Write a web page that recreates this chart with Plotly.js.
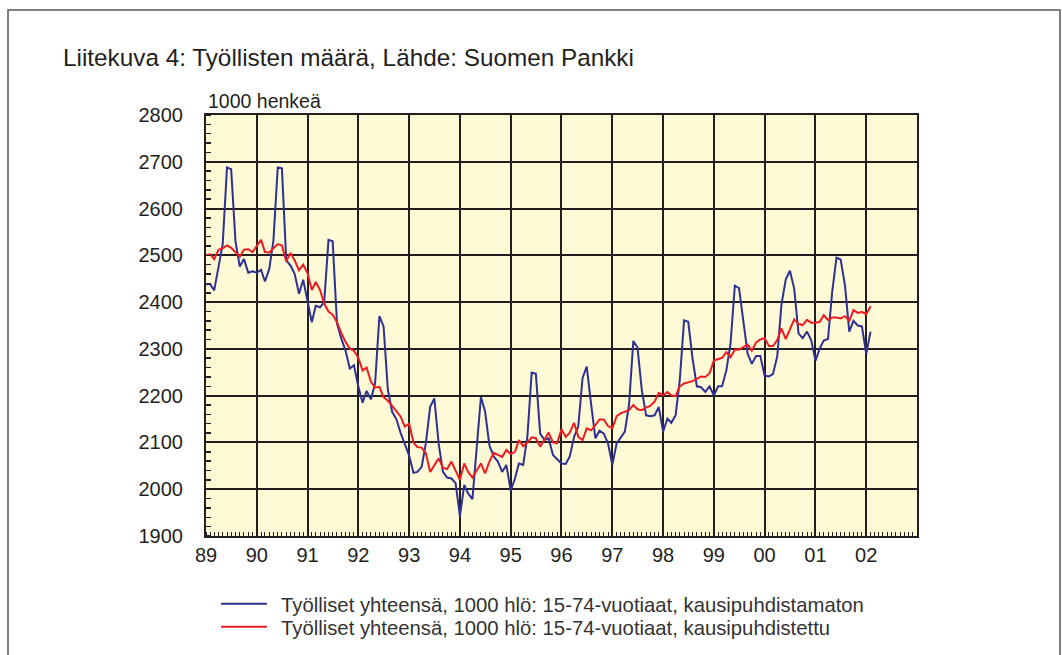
<!DOCTYPE html>
<html>
<head>
<meta charset="utf-8">
<script src="https://cdn.plot.ly/plotly-3.0.1.min.js"></script>
<style>
html,body{margin:0;padding:0;background:#fff;}
#chart{width:1062px;height:655px;}
</style>
</head>
<body>
<div id="chart"></div>
<script>
// Years covered by the monthly data (Jan 1989 .. Feb 2002)
const years = [1989,1990,1991,1992,1993,1994,1995,1996,1997,1998,1999,2000,2001,2002];
const tickYears = [1989,1990,1991,1992,1993,1994,1995,1996,1997,1998,1999,2000,2001,2002];
const tickLabels = ["89","90","91","92","93","94","95","96","97","98","99","00","01","02"];

// Työlliset yhteensä, kausipuhdistamaton (unadjusted), 1000 persons, monthly
const unadjusted = [
  2438,2438,2425,2475,2524,2688,2684,2530,2476,2492,2463,2466, // 1989
  2463,2469,2444,2471,2532,2688,2686,2489,2478,2460,2418,2448, // 1990
  2400,2357,2392,2389,2400,2533,2530,2354,2322,2297,2258,2265, // 1991
  2220,2185,2210,2192,2226,2370,2348,2212,2165,2150,2120,2098, // 1992
  2072,2035,2037,2048,2098,2176,2194,2098,2037,2025,2023,2013, // 1993
  1942,2009,1991,1979,2090,2197,2166,2094,2070,2059,2037,2052, // 1994
  1997,2023,2055,2052,2112,2249,2247,2119,2105,2109,2073,2063, // 1995
  2055,2054,2070,2112,2134,2238,2262,2183,2109,2125,2119,2098, // 1996
  2052,2098,2111,2123,2180,2317,2303,2212,2158,2156,2158,2176, // 1997
  2123,2151,2142,2158,2233,2361,2358,2279,2220,2218,2208,2220, // 1998
  2201,2220,2220,2254,2311,2435,2430,2361,2290,2268,2285,2285, // 1999
  2243,2241,2246,2284,2394,2448,2467,2429,2333,2323,2337,2319, // 2000
  2275,2301,2318,2321,2422,2495,2491,2436,2337,2360,2350,2348, // 2001
  2289,2337                                                    // 2002
];

// Työlliset yhteensä, kausipuhdistettu (seasonally adjusted), 1000 persons, monthly
const adjusted = [
  2500,2502,2492,2512,2515,2521,2516,2507,2497,2512,2513,2507, // 1989
  2521,2533,2507,2506,2515,2524,2521,2487,2505,2489,2468,2480, // 1990
  2462,2426,2443,2426,2397,2380,2373,2357,2334,2315,2301,2296, // 1991
  2281,2254,2260,2230,2217,2219,2197,2189,2178,2166,2155,2134, // 1992
  2140,2100,2090,2089,2077,2037,2052,2066,2046,2043,2059,2041, // 1993
  2020,2055,2037,2025,2039,2055,2034,2059,2078,2073,2069,2084, // 1994
  2075,2080,2105,2092,2100,2111,2109,2091,2107,2121,2100,2098, // 1995
  2128,2112,2121,2142,2112,2105,2130,2126,2137,2149,2149,2135, // 1996
  2130,2156,2162,2166,2169,2180,2171,2169,2175,2178,2187,2206, // 1997
  2201,2208,2201,2199,2220,2226,2228,2231,2236,2241,2240,2248, // 1998
  2275,2279,2281,2293,2282,2298,2298,2304,2309,2296,2314,2320, // 1999
  2323,2306,2306,2319,2344,2321,2340,2363,2353,2351,2362,2356, // 2000
  2356,2358,2372,2362,2367,2367,2365,2370,2360,2383,2377,2379, // 2001
  2374,2391                                                    // 2002
];

const seriesNames = [
  "Työlliset yhteensä, 1000 hlö: 15-74-vuotiaat, kausipuhdistamaton",
  "Työlliset yhteensä, 1000 hlö: 15-74-vuotiaat, kausipuhdistettu"
];

// monthly date categories
const months = [];
for (const y of years) {
  for (let m = 1; m <= 12; m++) {
    months.push(y + "-" + String(m).padStart(2, "0") + "-01");
  }
}
const dates = months.slice(0, unadjusted.length);
const tickDates = tickYears.map(y => y + "-01-01");

const FONT = "Liberation Sans, Arial, Helvetica, sans-serif";
const INK = "#231f20";

const traces = [
  {x: dates, y: unadjusted, type: "scatter", mode: "lines", name: seriesNames[0],
   legend: "legend",
   line: {color: "#2e3192", width: 2}, hoverinfo: "skip"},
  {x: dates, y: adjusted, type: "scatter", mode: "lines", name: seriesNames[1],
   legend: "legend2",
   line: {color: "#ed1c24", width: 2}, hoverinfo: "skip"}
];

const L = 206, R = 917, T = 115, B = 536, W = 1062, H = 655;
const pw = R - L, ph = B - T;
const px = v => (v - L) / pw;
const py = v => (B - v) / ph;

const legendBase = {
  xref: "container", yref: "container",
  x: 216 / W, xanchor: "left", yanchor: "middle",
  orientation: "v",
  bgcolor: "rgba(0,0,0,0)",
  font: {family: FONT, size: 20.3, color: "#333333"},
  itemwidth: 55
};

const layout = {
  width: W, height: H,
  margin: {l: L, r: W - R, t: T, b: H - B, pad: 0, autoexpand: false},
  paper_bgcolor: "#ffffff",
  plot_bgcolor: "#fffad6",
  showlegend: true,
  font: {family: FONT, color: INK, size: 18},
  title: {
    text: "Liitekuva 4: Työllisten määrä, Lähde: Suomen Pankki",
    font: {family: FONT, size: 24.3, color: INK},
    x: 63 / W, xanchor: "left", xref: "container",
    y: 1 - 57 / H, yanchor: "middle", yref: "container"
  },
  xaxis: {
    type: "date",
    range: ["1989-01-01", "2003-01-01"],
    tickmode: "array",
    tickvals: tickDates,
    ticktext: tickLabels,
    ticks: "",
    showgrid: true, gridcolor: INK, gridwidth: 2,
    showline: true, linecolor: INK, linewidth: 2, mirror: true,
    zeroline: false,
    tickfont: {family: FONT, size: 20, color: INK},
    minor: {tickmode: "linear", tick0: "1989-01-01", dtick: "M1", ticks: "inside",
            ticklen: 4, tickcolor: INK, tickwidth: 1, showgrid: false},
    fixedrange: true
  },
  yaxis: {
    range: [1900, 2800],
    tickmode: "linear", tick0: 1900, dtick: 100,
    ticks: "outside", ticklen: 17, tickcolor: "rgba(0,0,0,0)",
    showgrid: true, gridcolor: INK, gridwidth: 2,
    showline: true, linecolor: INK, linewidth: 2, mirror: true,
    zeroline: false,
    tickfont: {family: FONT, size: 20, color: INK},
    minor: {tickmode: "linear", tick0: 1900, dtick: 20, ticks: "inside",
            ticklen: 5, tickcolor: INK, tickwidth: 1.5, showgrid: false},
    fixedrange: true
  },
  legend: Object.assign({}, legendBase, {y: 1 - 604 / H}),
  legend2: Object.assign({}, legendBase, {y: 1 - 627 / H}),
  annotations: [
    {text: "1000 henkeä", xref: "paper", yref: "paper", x: 0, y: py(101),
     xanchor: "left", yanchor: "middle", showarrow: false,
     font: {family: FONT, size: 19.5, color: INK}}
  ],
  shapes: [
    {type: "rect", xref: "paper", yref: "paper",
     x0: px(8), x1: px(1060), y0: py(700), y1: py(10),
     line: {color: "#555555", width: 1.5}, fillcolor: "rgba(0,0,0,0)", layer: "below"}
  ]
};

Plotly.newPlot("chart", traces, layout, {staticPlot: true, displayModeBar: false}).then(gd => {
  // lengthen the legend line samples to match the original key
  gd.querySelectorAll(".legendlines path").forEach(p => p.setAttribute("d", "M5,0h46"));
});
</script>
</body>
</html>
